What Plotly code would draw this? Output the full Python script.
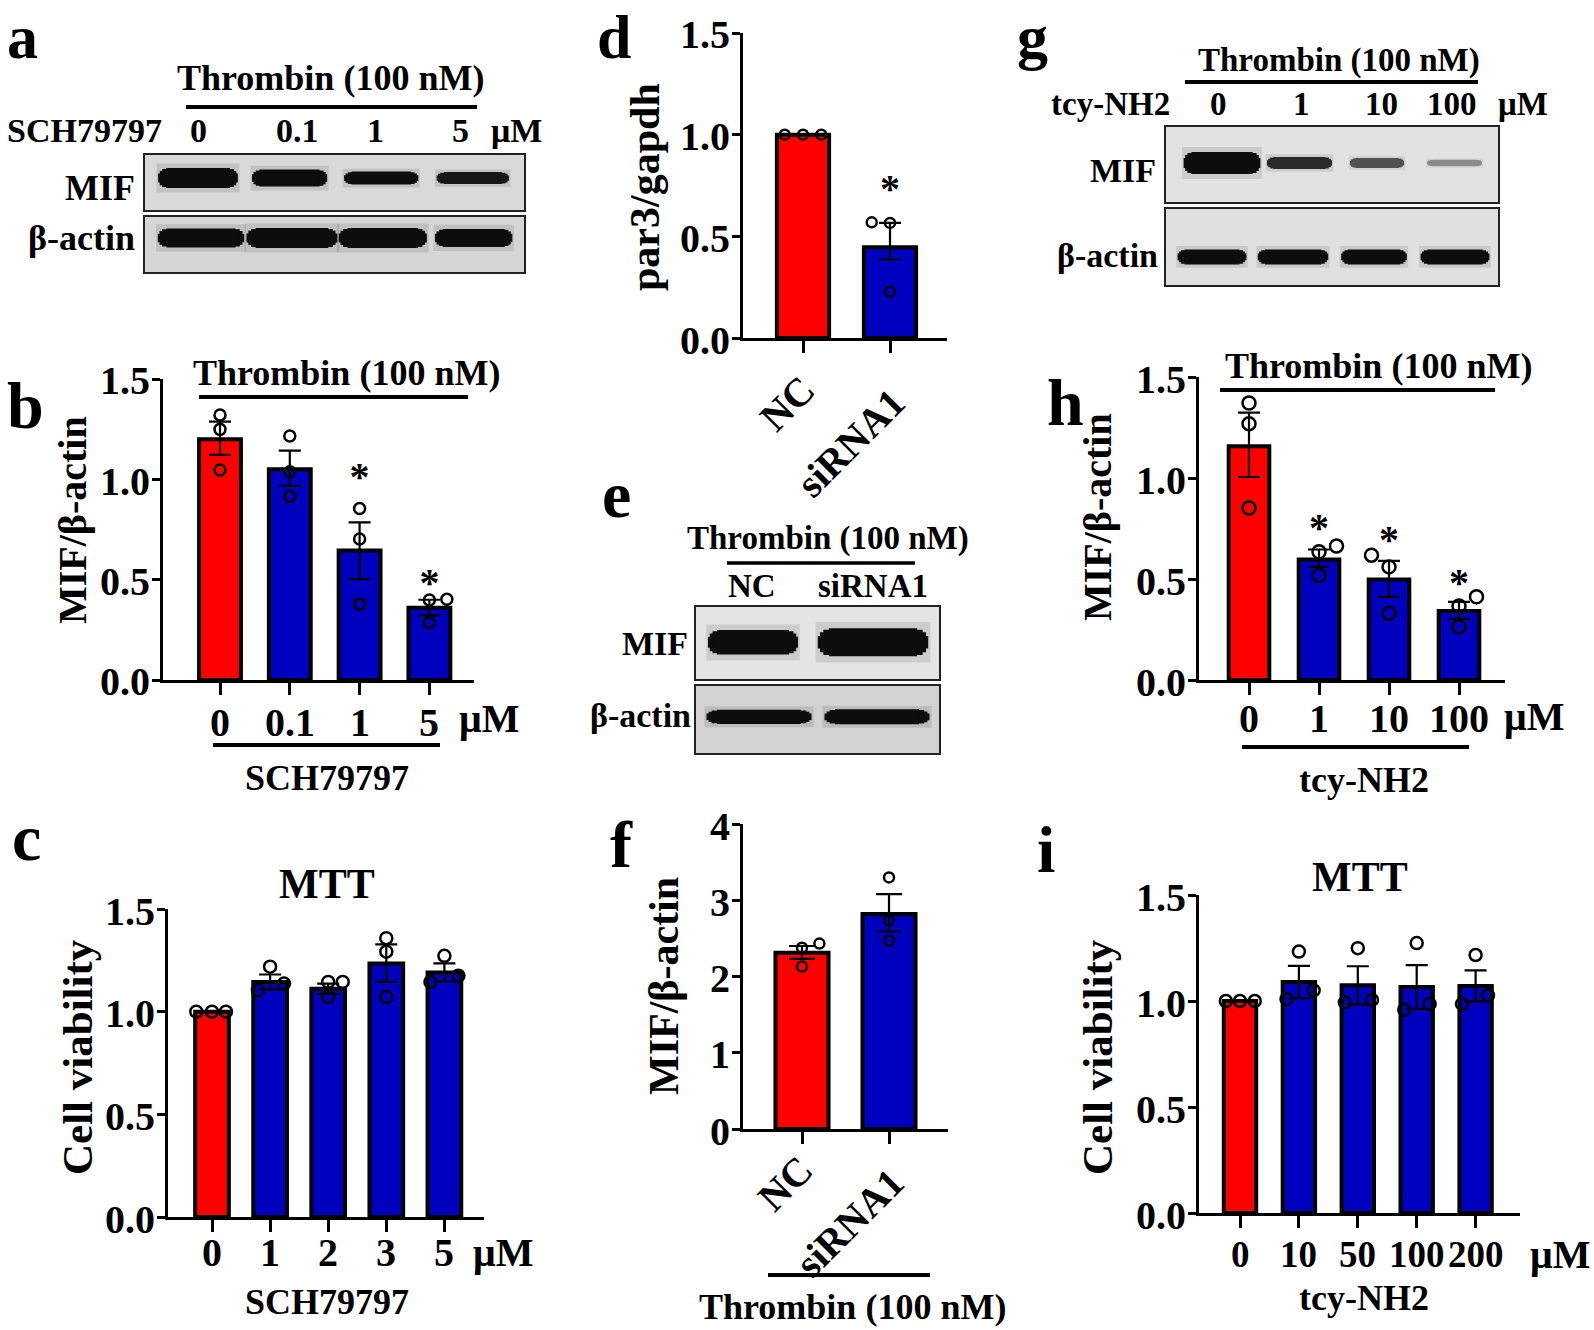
import plotly.graph_objects as go

W, H = 1594, 1330
FONT = "Liberation Serif"
RED = "#FF0000"
BLUE = "#0000BF"

# ---------------- data ----------------
# panel b: MIF/beta-actin vs SCH79797
b_cats = ["0", "0.1", "1", "5"]
b_mean = [1.20, 1.05, 0.645, 0.36]
b_err_up = [0.088, 0.093, 0.141, 0.040]
b_err_dn = [0.078, 0.083, 0.142, 0.038]
b_pts = [[1.321, 1.249, 1.047], [1.216, 1.038, 0.914], [0.855, 0.703, 0.377], [0.399, 0.402, 0.286]]
b_jit = [[0, 0, 0], [0, 0, 0], [0, 0, 0], [0, 0.25, 0]]
b_star = [None, None, 0.995, 0.47]

# panel c: MTT vs SCH79797
c_cats = ["0", "1", "2", "3", "5"]
c_mean = [1.0, 1.145, 1.112, 1.235, 1.191]
c_err_up = [0.0, 0.036, 0.025, 0.093, 0.044]
c_err_dn = [0.0, 0.036, 0.025, 0.090, 0.044]
c_pts = [[1.0, 1.0, 1.0], [1.104, 1.219, 1.137], [1.071, 1.145, 1.145], [1.358, 1.292, 1.071], [1.145, 1.272, 1.175]]
c_jit = [[-0.27, 0, 0.24], [-0.21, 0, 0.24], [0, 0, 0.25], [0, 0, 0], [-0.24, 0, 0.24]]

# panel d: par3/gapdh
d_cats = ["NC", "siRNA1"]
d_mean = [1.0, 0.446]
d_err_up = [0.0, 0.12]
d_err_dn = [0.0, 0.06]
d_pts = [[1.0, 1.0, 1.0], [0.569, 0.566, 0.228]]
d_jit = [[-0.21, 0, 0.21], [-0.21, 0, 0]]
d_star = [None, 0.72]

# panel f: MIF/beta-actin, NC vs siRNA1
f_cats = ["NC", "siRNA1"]
f_mean = [2.31, 2.82]
f_err_up = [0.09, 0.26]
f_err_dn = [0.08, 0.23]
f_pts = [[2.378, 2.432, 2.13], [3.30, 2.74, 2.47]]
f_jit = [[0, 0.2, 0], [0, 0, 0]]

# panel h: MIF/beta-actin vs tcy-NH2
h_cats = ["0", "1", "10", "100"]
h_mean = [1.157, 0.597, 0.498, 0.341]
h_err_up = [0.167, 0.049, 0.092, 0.046]
h_err_dn = [0.152, 0.037, 0.086, 0.038]
h_pts = [[1.371, 1.269, 0.852], [0.635, 0.663, 0.519], [0.618, 0.560, 0.330], [0.366, 0.412, 0.264]]
h_jit = [[0, 0, 0], [0, 0.25, 0], [-0.25, 0, 0], [0, 0.25, 0]]
h_star = [None, 0.74, 0.68, 0.465]

# panel i: MTT vs tcy-NH2
i_cats = ["0", "10", "50", "100", "200"]
i_mean = [1.0, 1.090, 1.074, 1.066, 1.071]
i_err_up = [0.0, 0.076, 0.090, 0.103, 0.073]
i_err_dn = [0.0, 0.076, 0.090, 0.103, 0.073]
i_pts = [[1.0, 1.0, 1.0], [1.010, 1.233, 1.050], [0.994, 1.249, 1.005], [0.959, 1.273, 0.986], [0.986, 1.217, 1.026]]
i_jit = [[-0.24, 0, 0.25], [-0.21, 0, 0.25], [-0.22, 0, 0.24], [-0.21, 0, 0.22], [-0.23, 0, 0.21]]

# y-axis ticks
ticks_15 = [0, 0.5, 1.0, 1.5]
ticks_15_text = ["0.0", "0.5", "1.0", "1.5"]
ticks_4 = [0, 1, 2, 3, 4]
ticks_4_text = ["0", "1", "2", "3", "4"]

# western blot band signal (relative) and band length (lane units)
a_lanes = ["0", "0.1", "1", "5"]
a_mif_signal = [1.0, 0.85, 0.65, 0.60]
a_mif_len = [0.87, 0.82, 0.81, 0.79]
a_act_signal = [0.95, 1.0, 1.0, 0.9]
a_act_len = [0.95, 1.0, 0.97, 0.85]
e_lanes = ["NC", "siRNA1"]
e_mif_signal = [0.88, 1.0]
e_mif_len = [0.75, 0.92]
e_act_signal = [0.95, 1.0]
e_act_len = [0.89, 0.89]
g_lanes = ["0", "1", "10", "100"]
g_mif_signal = [1.0, 0.55, 0.45, 0.30]
g_mif_len = [0.99, 0.84, 0.70, 0.71]
g_act_signal = [1.0, 1.0, 1.0, 1.0]
g_act_len = [0.85, 0.87, 0.81, 0.85]

# ---------------- helpers ----------------
fig = go.Figure()
layout = {}
annotations = []
shapes = []


def fx(x):
    return x / W


def fy(y):
    return 1 - y / H


def axkey(n, kind):
    return kind + ("" if n == 1 else str(n))


def ref(n, k):
    return k + ("" if n == 1 else str(n))


def font(size, color="black"):
    return dict(family=FONT, size=size, color=color, weight="bold")


def text(s, x, base, size, xanchor="center"):
    annotations.append(dict(text=s, x=fx(x), y=fy(base - 0.34 * size), xref="paper", yref="paper",
                            xanchor=xanchor, yanchor="middle", showarrow=False, font=font(size)))


def toptext(s, x, top, size):
    annotations.append(dict(text=s, x=fx(x), y=fy(top), xref="paper", yref="paper",
                            xanchor="left", yanchor="top", showarrow=False, font=font(size)))


def vtext(s, xc, yc, size):
    annotations.append(dict(text=s, x=fx(xc), y=fy(yc), xref="paper", yref="paper", xanchor="center",
                            yanchor="middle", showarrow=False, font=font(size), textangle=-90))


def hline(x0, x1, y, w=4):
    shapes.append(dict(type="line", xref="paper", yref="paper", x0=fx(x0), x1=fx(x1), y0=fy(y), y1=fy(y),
                       line=dict(color="black", width=w)))


def bar_panel(n, cats, mean, eup, edn, pts, jit, stars, g, yr, ytv, ytt, bw, ms,
              lab_y, rot=None, tfs=40, ticklen=12, cap=11):
    xr, yr_ = ref(n, "x"), ref(n, "y")
    idx = list(range(len(cats)))
    colors = [RED] + [BLUE] * (len(cats) - 1)
    fig.add_trace(go.Bar(x=idx, y=mean, width=bw,
                         marker=dict(color=colors, line=dict(color="black", width=4)),
                         error_y=dict(type="data", array=eup, arrayminus=edn, symmetric=False,
                                      color="black", thickness=2.2, width=cap),
                         xaxis=xr, yaxis=yr_, hoverinfo="skip"))
    px_, py_ = [], []
    for i, (p, j) in enumerate(zip(pts, jit)):
        for v, o in zip(p, j):
            px_.append(i + o)
            py_.append(v)
    fig.add_trace(go.Scatter(x=px_, y=py_, mode="markers",
                             marker=dict(symbol="circle-open", size=ms, color="black", line=dict(width=2.5)),
                             xaxis=xr, yaxis=yr_, cliponaxis=False, hoverinfo="skip"))
    if stars:
        sx = [i for i, s in enumerate(stars) if s is not None]
        sy = [s for s in stars if s is not None]
        fig.add_trace(go.Scatter(x=sx, y=sy, mode="text", text=["*"] * len(sx), textfont=font(40),
                                 textposition="middle center", xaxis=xr, yaxis=yr_, cliponaxis=False,
                                 hoverinfo="skip"))
    # category labels under the ticks, placed on the axis' own scale
    for i, c in enumerate(cats):
        if rot is None:
            annotations.append(dict(text=c, x=i, xref=xr, y=fy(lab_y), yref="paper", xanchor="center",
                                    yanchor="middle", showarrow=False, font=font(tfs)))
        else:
            annotations.append(dict(text=c, x=i, xref=xr, y=fy(rot[i][1]), yref="paper", xanchor="center",
                                    yanchor="middle", xshift=rot[i][0], showarrow=False, font=font(tfs),
                                    textangle=-45))
    # value labels next to the y ticks, placed on the axis' own scale
    for v, t in zip(ytv, ytt):
        annotations.append(dict(text=t, x=fx(g["left"] - 11), xref="paper", y=v, yref=yr_, xanchor="right",
                                yanchor="middle", yshift=-2, showarrow=False, font=font(40)))
    layout[axkey(n, "xaxis")] = dict(
        domain=[fx(g["left"]), fx(g["right"])],
        range=[(g["left"] - g["c0"]) / g["sp"], (g["right"] - g["c0"]) / g["sp"]],
        anchor=yr_, tickmode="array", tickvals=idx, showticklabels=False,
        ticks="outside", ticklen=ticklen, tickwidth=3, tickcolor="black", showline=True, linewidth=3,
        linecolor="black", showgrid=False, zeroline=False, automargin=False, fixedrange=True)
    layout[axkey(n, "yaxis")] = dict(
        domain=[fy(g["bottom"]), fy(g["top"])], range=yr, anchor=xr, tickmode="array", tickvals=ytv,
        showticklabels=False, ticks="outside", ticklen=8, tickwidth=3, tickcolor="black", showline=True,
        linewidth=3, linecolor="black", showgrid=False, zeroline=False, automargin=False, fixedrange=True)


def blot_panel(n, g, band_y, signal, blen, base_px, bg):
    xr, yr_ = ref(n, "x"), ref(n, "y")
    shapes.append(dict(type="rect", xref=xr + " domain", yref=yr_ + " domain", x0=0, x1=1, y0=0, y1=1,
                       fillcolor=bg, line=dict(width=0), layer="below"))
    for i, (s, l) in enumerate(zip(signal, blen)):
        thick = base_px * s
        dark = min(1.0, 1.6 * s)
        gv = int(round(255 * (1 - 0.95 * dark)))
        layers = [(1.04, 1.45, "rgba(0,0,0,%.2f)" % (0.10 * dark)),
                  (1.00, 0.45, "rgb(%d,%d,%d)" % (gv, gv, gv)),
                  (0.96, 0.72, "rgb(%d,%d,%d)" % (gv, gv, gv)),
                  (0.90, 0.90, "rgb(%d,%d,%d)" % (gv, gv, gv)),
                  (0.80, 1.00, "rgb(%d,%d,%d)" % (gv, gv, gv))]
        for lf, tf, col in layers:
            half = l * lf / 2
            fig.add_trace(go.Scatter(x=[i - half, i + half], y=[band_y, band_y], mode="lines",
                                     line=dict(color=col, width=thick * tf), xaxis=xr, yaxis=yr_,
                                     hoverinfo="skip"))
    layout[axkey(n, "xaxis")] = dict(
        domain=[fx(g["left"]), fx(g["right"])],
        range=[(g["left"] - g["c0"]) / g["sp"], (g["right"] - g["c0"]) / g["sp"]],
        anchor=yr_, showline=True, mirror=True, linewidth=2, linecolor="#222", ticks="",
        showticklabels=False, showgrid=False, zeroline=False, automargin=False, fixedrange=True)
    layout[axkey(n, "yaxis")] = dict(
        domain=[fy(g["bottom"]), fy(g["top"])], range=[0, 1], anchor=xr, showline=True, mirror=True,
        linewidth=2, linecolor="#222", ticks="", showticklabels=False, showgrid=False, zeroline=False,
        automargin=False, fixedrange=True)


bar_panel(1, b_cats, b_mean, b_err_up, b_err_dn, b_pts, b_jit, b_star,
          dict(left=163, right=474, c0=220, sp=69.8, top=379, bottom=680), [0, 1.5],
          ticks_15, ticks_15_text, 0.60, 11, lab_y=722)
bar_panel(2, c_cats, c_mean, c_err_up, c_err_dn, c_pts, c_jit, None,
          dict(left=168, right=484, c0=212, sp=58.1, top=909, bottom=1217), [0, 1.5],
          ticks_15, ticks_15_text, 0.58, 12, lab_y=1252)
bar_panel(3, d_cats, d_mean, d_err_up, d_err_dn, d_pts, d_jit, d_star,
          dict(left=743, right=947, c0=803, sp=87, top=33, bottom=338), [0, 1.5],
          ticks_15, ticks_15_text, 0.60, 10, lab_y=None, rot=[(-16, 403), (-40, 443)])
bar_panel(4, f_cats, f_mean, f_err_up, f_err_dn, f_pts, f_jit, None,
          dict(left=743, right=948, c0=802, sp=87, top=824, bottom=1129), [0, 4],
          ticks_4, ticks_4_text, 0.61, 10, lab_y=None, rot=[(-17, 1183), (-40, 1223)], cap=13)
bar_panel(5, h_cats, h_mean, h_err_up, h_err_dn, h_pts, h_jit, h_star,
          dict(left=1199, right=1505, c0=1249, sp=70, top=377, bottom=680), [0, 1.5],
          ticks_15, ticks_15_text, 0.58, 13, lab_y=718)
bar_panel(6, i_cats, i_mean, i_err_up, i_err_dn, i_pts, i_jit, None,
          dict(left=1199, right=1520, c0=1240, sp=58.9, top=895, bottom=1213), [0, 1.5],
          ticks_15, ticks_15_text, 0.55, 12, lab_y=1254, tfs=37)

blot_panel(7, dict(left=145, right=524, c0=198, sp=91.6, top=155, bottom=210), 0.58,
           a_mif_signal, a_mif_len, 20, "#d9d9d9")
blot_panel(8, dict(left=145, right=524, c0=201, sp=90.9, top=217, bottom=272), 0.62,
           a_act_signal, a_act_len, 20, "#d6d6d6")
blot_panel(9, dict(left=696, right=939, c0=753, sp=120, top=607, bottom=679), 0.51,
           e_mif_signal, e_mif_len, 28, "#e4e4e4")
blot_panel(10, dict(left=696, right=939, c0=759, sp=118, top=686, bottom=753), 0.54,
           e_act_signal, e_act_len, 15, "#d2d2d2")
blot_panel(11, dict(left=1166, right=1498, c0=1222, sp=77.5, top=127, bottom=202), 0.52,
           g_mif_signal, g_mif_len, 22, "#e2e2e2")
blot_panel(12, dict(left=1166, right=1498, c0=1212, sp=81.0, top=209, bottom=285), 0.37,
           g_act_signal, g_act_len, 15, "#e0e0e0")

# ---------------- text ----------------
# panel letters at the very top are anchored by their top edge so they stay inside the page
for s, x in [("a", 5), ("d", 595), ("g", 1015)]:
    toptext(s, x, 1, 62)
for s, x, base in [("b", 5, 428), ("c", 10, 860), ("e", 600, 517),
                   ("f", 608, 867), ("h", 1045, 425), ("i", 1035, 872)]:
    text(s, x, base, 66, "left")

# a
text("Thrombin (100 nM)", 330, 90, 36)
hline(186, 477, 107)
text("SCH79797", 164, 142, 34, "right")
for s, x in zip(a_lanes + ["μM"], [198, 297, 375, 460, 516]):
    text(s, x, 142, 34)
text("MIF", 137, 200, 36, "right")
text("β-actin", 137, 250, 36, "right")

# b
text("Thrombin (100 nM)", 346, 385, 36)
hline(199, 468, 397)
vtext("MIF/β-actin", 72, 520, 40)
text("μM", 489, 732, 40)
hline(213, 440, 745)
text("SCH79797", 327, 790, 36)

# c
text("MTT", 327, 898, 42)
vtext("Cell viability", 77, 1057, 43)
text("μM", 503, 1266, 40)
text("SCH79797", 327, 1314, 36)

# d
vtext("par3/gapdh", 645, 187, 42)

# e
text("Thrombin (100 nM)", 828, 550, 33)
hline(727, 915, 563, 3.5)
for s, x in zip(e_lanes, [752, 873]):
    text(s, x, 597, 33)
text("MIF", 690, 655, 34, "right")
text("β-actin", 693, 727, 34, "right")

# f
vtext("MIF/β-actin", 664, 986, 42)
hline(768, 930, 1275)
text("Thrombin (100 nM)", 852, 1319, 36)

# g
text("Thrombin (100 nM)", 1339, 72, 33)
hline(1185, 1478, 82)
text("tcy-NH2", 1172, 115, 33, "right")
for s, x in zip(g_lanes + ["μM"], [1218, 1301, 1381, 1452, 1523]):
    text(s, x, 115, 33)
text("MIF", 1158, 182, 34, "right")
text("β-actin", 1160, 267, 34, "right")

# h
text("Thrombin (100 nM)", 1378, 378, 36)
hline(1220, 1495, 390)
vtext("MIF/β-actin", 1098, 517, 40)
text("μM", 1534, 730, 40)
hline(1242, 1469, 747)
text("tcy-NH2", 1364, 792, 36)

# i
text("MTT", 1360, 891, 42)
vtext("Cell viability", 1097, 1057, 43)
text("μM", 1560, 1268, 40)
text("tcy-NH2", 1364, 1310, 36)

fig.update_layout(template="none", width=W, height=H, autosize=False,
                  margin=dict(l=0, r=0, t=0, b=0, pad=0),
                  paper_bgcolor="white", plot_bgcolor="white", showlegend=False,
                  font=font(36), annotations=annotations, shapes=shapes, **layout)

fig.write_html("out.html", config={"displayModeBar": False, "staticPlot": True},
               post_script="document.body.style.margin='0';")
